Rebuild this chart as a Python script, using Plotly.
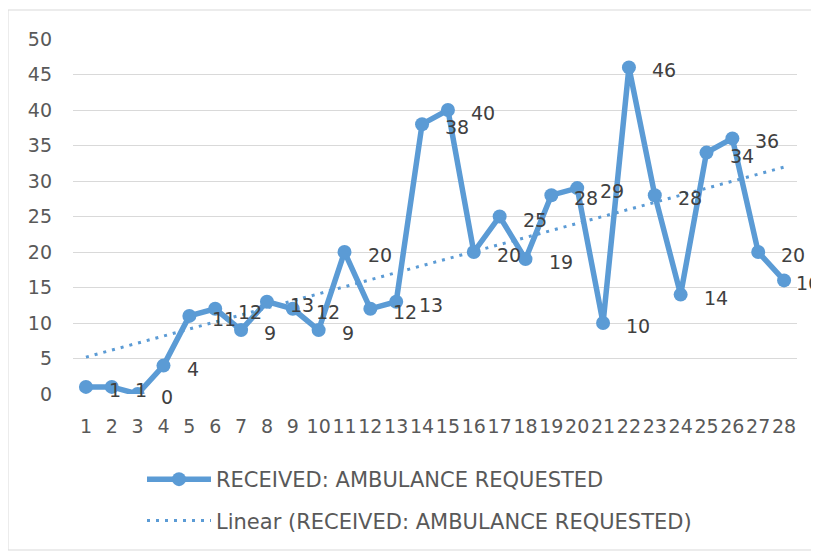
import numpy as np
import plotly.graph_objects as go

categories = list(range(1, 29))
received = [1, 1, 0, 4, 11, 12, 9, 13, 12, 9, 20, 12, 13, 38, 40, 20, 25, 19, 28, 29, 10, 46, 28, 14, 34, 36, 20, 16]
y_ticks = [0, 5, 10, 15, 20, 25, 30, 35, 40, 45, 50]
series_name = "RECEIVED: AMBULANCE REQUESTED"
trend_name = "Linear (RECEIVED: AMBULANCE REQUESTED)"

# Excel-style linear trendline (least squares fit of the series)
slope, intercept = np.polyfit(categories, received, 1)
trend = [slope * c + intercept for c in categories]

BLUE = "#5B9BD5"
FONT = "DejaVu Sans"
OX, OY = 8, 8          # page body margin offset
W, H = 811, 545
L, R, T, B = 65, 22, 31, 159
pw, ph = W - L - R, H - T - B

def px_x(p):  # reference page pixel -> paper x
    return (p - OX - L) / pw

def px_y(p):  # reference page pixel -> paper y
    return (H - B - (p - OY)) / ph

fig = go.Figure()
fig.add_trace(go.Scatter(
    x=categories, y=received, mode="lines+markers", name=series_name,
    line=dict(color=BLUE, width=5.5), marker=dict(color=BLUE, size=14),
    legendgroup="a",
))
fig.add_trace(go.Scatter(
    x=[categories[0], categories[-1]], y=[trend[0], trend[-1]], mode="lines",
    name=trend_name, line=dict(color=BLUE, width=3, dash="3px,6px"),
    legendgroup="b",
))

for i, (c, v) in enumerate(zip(categories, received)):
    shift = 10 if i == len(categories) - 1 else 21
    fig.add_annotation(x=c, y=v, text=str(v), showarrow=False, xanchor="left",
                       yanchor="middle", xshift=shift, yshift=-3,
                       font=dict(family=FONT, size=19, color="#404040"))

# chart border
fig.add_shape(type="rect", xref="paper", yref="paper",
              x0=px_x(8), x1=px_x(817), y0=px_y(550), y1=px_y(10),
              line=dict(color="#D9D9D9", width=1), fillcolor="rgba(0,0,0,0)", layer="below")

fig.update_layout(
    width=W, height=H, margin=dict(l=L, r=R, t=T, b=B, autoexpand=False),
    paper_bgcolor="white", plot_bgcolor="white",
    font=dict(family=FONT, size=19, color="#595959"),
    showlegend=True,
    legend=dict(x=px_x(142), y=px_y(459), xanchor="left", yanchor="top",
                orientation="v", itemwidth=64, tracegroupgap=11,
                font=dict(family=FONT, size=21, color="#595959"),
                bgcolor="rgba(0,0,0,0)"),
    xaxis=dict(range=[0.5, 28.5], tickmode="array", tickvals=categories,
               ticktext=[str(c) for c in categories], tickangle=0,
               showgrid=False, zeroline=False, showline=False,
               ticks="", ticklabelstandoff=19,
               tickfont=dict(family=FONT, size=19, color="#595959")),
    yaxis=dict(range=[0, 50], tickmode="array", tickvals=y_ticks,
               showgrid=True, gridcolor="#D9D9D9", gridwidth=1,
               zeroline=False, showline=False, ticks="", ticklabelstandoff=20,
               tickfont=dict(family=FONT, size=19, color="#595959")),
)

fig.write_html("out.html")
